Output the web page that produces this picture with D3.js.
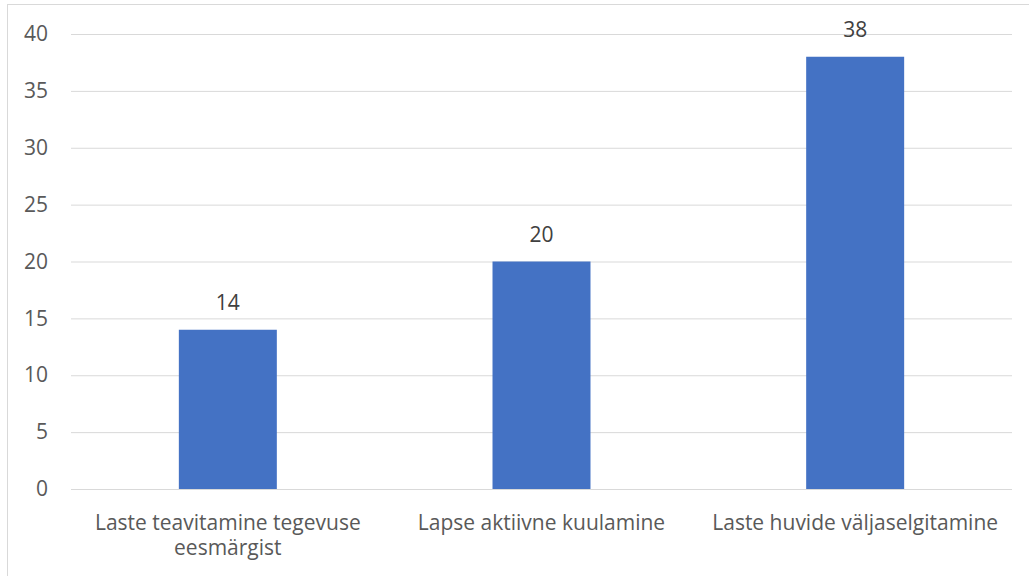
<!DOCTYPE html>
<html><head><meta charset="utf-8">
<script src="https://cdn.jsdelivr.net/npm/d3@7"></script>
<style>html,body{margin:0;padding:0;background:#fff;}svg{display:block;}</style>
</head><body>
<svg id="chart" width="1029" height="576"></svg>
<script>
const categories = [["Laste teavitamine tegevuse","eesmärgist"],["Lapse aktiivne kuulamine"],["Laste huvide väljaselgitamine"]];
const values = [14, 20, 38];
const yTicks = [0, 5, 10, 15, 20, 25, 30, 35, 40];

const svg = d3.select("#chart");
const W = 1029, H = 576;
const font = "'Open Sans', sans-serif";
const fs = "21px";
const m = {left: 71, right: 1012, top: 34, bottom: 489};

svg.append("rect").attr("x", 7.5).attr("y", 4.5).attr("width", W).attr("height", H)
  .attr("fill", "#fff").attr("stroke", "#d9d9d9").attr("stroke-width", 1);

const x = d3.scaleBand().domain(d3.range(values.length)).range([m.left, m.right])
  .paddingInner(0.6876).paddingOuter(0.3438);
const y = d3.scaleLinear().domain([0, 40]).range([m.bottom, m.top]);

const yAxis = svg.append("g").attr("transform", `translate(${m.left},0)`)
  .call(d3.axisLeft(y).tickValues(yTicks).tickSize(-(m.right - m.left)).tickPadding(23));
yAxis.select(".domain").remove();
yAxis.selectAll(".tick line").attr("stroke", "#d9d9d9").attr("stroke-width", 1);
yAxis.selectAll(".tick text").attr("fill", "#595959").style("font-family", font).style("font-size", fs);

svg.selectAll("rect.bar").data(values).enter().append("rect").attr("class", "bar")
  .attr("x", (d, i) => x(i)).attr("width", x.bandwidth())
  .attr("y", d => y(d)).attr("height", d => y(0) - y(d)).attr("fill", "#4472c4");

svg.selectAll("text.lbl").data(values).enter().append("text").attr("class", "lbl")
  .attr("x", (d, i) => x(i) + x.bandwidth() / 2).attr("y", d => y(d) - 20)
  .attr("text-anchor", "middle").attr("fill", "#404040")
  .style("font-family", font).style("font-size", fs).text(d => d);

const cat = svg.selectAll("text.cat").data(categories).enter().append("text").attr("class", "cat")
  .attr("text-anchor", "middle").attr("fill", "#595959")
  .style("font-family", font).style("font-size", fs);
cat.each(function(lines, i) {
  const t = d3.select(this);
  lines.forEach((ln, j) => {
    t.append("tspan").attr("x", x(i) + x.bandwidth() / 2).attr("y", 530 + j * 25).text(ln);
  });
});
</script>
</body></html>
